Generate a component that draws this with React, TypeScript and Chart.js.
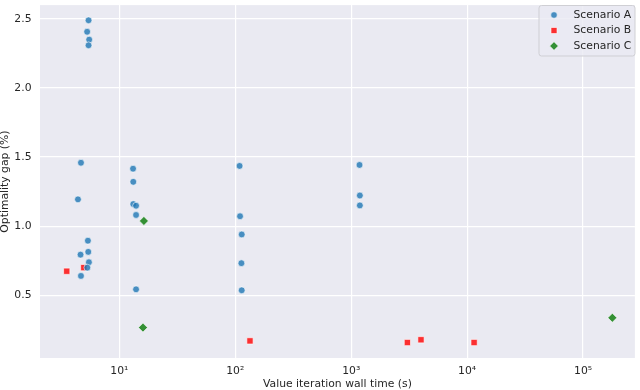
import React, { useEffect, useRef } from "react";
import { Chart, registerables } from "chart.js";

Chart.register(...registerables);

const seriesLabels = ["Scenario A", "Scenario B", "Scenario C"];

const aTime = [5.43, 5.28, 5.5, 5.43, 4.67, 4.4, 5.36, 5.4, 4.63, 5.47, 5.3, 4.67, 13.14, 13.2, 13.2, 13.95, 13.95, 13.95, 109, 110, 113.7, 113, 113.7, 1180, 1188, 1188];
const aGap = [2.49, 2.407, 2.35, 2.309, 1.459, 1.194, 0.895, 0.814, 0.794, 0.739, 0.7, 0.64, 1.416, 1.321, 1.16, 1.148, 1.081, 0.543, 1.436, 1.072, 0.94, 0.732, 0.536, 1.443, 1.222, 1.15];

const bTime = [3.52, 4.94, 134, 3054, 4000, 11490];
const bGap = [0.674, 0.7, 0.17, 0.158, 0.178, 0.158];

const cTime = [16.3, 16.0, 179000];
const cGap = [1.038, 0.266, 0.337];

const xTicks = [10, 100, 1000, 10000, 100000];
const xTickLabels = ["10¹", "10²", "10³", "10⁴", "10⁵"];
const yTicks = [0.5, 1.0, 1.5, 2.0, 2.5];

const xTitle = "Value iteration wall time (s)";
const yTitle = "Optimality gap (%)";

const FONT = "'DejaVu Sans', sans-serif";
const FS = 10.8;
const TEXT = "#262626";

export default function App() {
  const ref = useRef<HTMLCanvasElement>(null);

  useEffect(() => {
    if (!ref.current) return;
    const toPts = (xs: number[], ys: number[]) => xs.map((x, i) => ({ x, y: ys[i] }));

    const bgPlugin = {
      id: "bgPlugin",
      beforeDraw(chart: any) {
        const { ctx, chartArea: a } = chart;
        ctx.save();
        ctx.fillStyle = "#EAEAF2";
        ctx.fillRect(a.left, a.top, a.right - a.left, a.bottom - a.top);
        ctx.restore();
      },
    };

    const legendPlugin = {
      id: "legendPlugin",
      afterDatasetsDraw(chart: any) {
        const { ctx } = chart;
        const x0 = 539, y0 = 5.5, w = 96, h = 50.5;
        ctx.save();
        ctx.beginPath();
        const r = 2.5;
        ctx.moveTo(x0 + r, y0);
        ctx.arcTo(x0 + w, y0, x0 + w, y0 + h, r);
        ctx.arcTo(x0 + w, y0 + h, x0, y0 + h, r);
        ctx.arcTo(x0, y0 + h, x0, y0, r);
        ctx.arcTo(x0, y0, x0 + w, y0, r);
        ctx.closePath();
        ctx.fillStyle = "rgba(234,234,242,0.8)";
        ctx.fill();
        ctx.strokeStyle = "#cfcfd4";
        ctx.lineWidth = 1;
        ctx.stroke();
        const rows = [15, 30.5, 46];
        chart.data.datasets.forEach((ds: any, i: number) => {
          const cx = 554, cy = rows[i];
          ctx.fillStyle = ds.backgroundColor;
          ctx.strokeStyle = "#ffffff";
          ctx.lineWidth = 0.6;
          ctx.beginPath();
          if (ds.pointStyle === "circle") {
            ctx.arc(cx, cy, 3.3, 0, Math.PI * 2);
          } else if (ds.pointStyle === "rect") {
            ctx.rect(cx - 3, cy - 3, 6, 6);
          } else {
            const d = 4.3;
            ctx.moveTo(cx, cy - d);
            ctx.lineTo(cx + d, cy);
            ctx.lineTo(cx, cy + d);
            ctx.lineTo(cx - d, cy);
            ctx.closePath();
          }
          ctx.fill();
          ctx.stroke();
          ctx.fillStyle = TEXT;
          ctx.font = `${FS}px ${FONT}`;
          ctx.textBaseline = "middle";
          ctx.textAlign = "left";
          ctx.fillText(ds.label, 573.5, cy);
        });
        ctx.restore();
      },
    };

    const chart = new Chart(ref.current, {
      type: "scatter",
      data: {
        datasets: [
          {
            label: seriesLabels[0],
            data: toPts(aTime, aGap),
            pointStyle: "circle",
            pointRadius: 3.4,
            backgroundColor: "rgba(31,119,180,0.8)",
            borderColor: "#ffffff",
            pointBorderWidth: 0.6,
          },
          {
            label: seriesLabels[1],
            data: toPts(bTime, bGap),
            pointStyle: "rect",
            pointRadius: 4.4,
            backgroundColor: "rgba(255,0,0,0.8)",
            borderColor: "#ffffff",
            pointBorderWidth: 0.6,
          },
          {
            label: seriesLabels[2],
            data: toPts(cTime, cGap),
            pointStyle: "rectRot",
            pointRadius: 4.5,
            backgroundColor: "rgba(20,128,20,0.85)",
            borderColor: "#ffffff",
            pointBorderWidth: 0.6,
          },
        ],
      },
      options: {
        responsive: false,
        animation: false,
        layout: { padding: { top: 1, right: 4, left: 0, bottom: 0 } },
        plugins: {
          legend: { display: false },
          tooltip: { enabled: false },
        },
        scales: {
          x: {
            type: "logarithmic",
            min: 2.07,
            max: 280000,
            afterFit: (s: any) => {
              s.height = 32;
              s.paddingLeft = 0;
              s.paddingRight = 0;
            },
            afterBuildTicks: (s: any) => { s.ticks = xTicks.map((v) => ({ value: v })); },
            ticks: {
              autoSkip: false,
              maxRotation: 0,
              padding: 7,
              color: TEXT,
              font: { family: FONT, size: FS },
              callback: (v: any) => {
                const i = xTicks.indexOf(Number(v));
                return i >= 0 ? xTickLabels[i] : "";
              },
            },
            grid: { color: "#ffffff", lineWidth: 1.2, drawTicks: false },
            border: { display: false },
            title: {
              display: true,
              text: xTitle,
              color: TEXT,
              font: { family: FONT, size: FS, lineHeight: 1.1 },
              padding: { top: 0, bottom: 0 },
            },
          },
          y: {
            type: "linear",
            min: 0.046,
            max: 2.6,
            afterFit: (s: any) => {
              s.width = 40;
              s.paddingTop = 0;
              s.paddingBottom = 0;
            },
            afterBuildTicks: (s: any) => { s.ticks = yTicks.map((v) => ({ value: v })); },
            ticks: {
              padding: 8.5,
              color: TEXT,
              font: { family: FONT, size: FS },
              callback: (v: any) => Number(v).toFixed(1),
            },
            grid: { color: "#ffffff", lineWidth: 1.2, drawTicks: false },
            border: { display: false },
            title: {
              display: true,
              text: yTitle,
              color: TEXT,
              font: { family: FONT, size: FS, lineHeight: 1 },
              padding: { top: -0.5, bottom: 0 },
            },
          },
        },
      },
      plugins: [bgPlugin, legendPlugin],
    });
    return () => chart.destroy();
  }, []);

  return (
    <div style={{ position: "fixed", left: 0, top: 0, width: 640, height: 390, background: "#ffffff" }}>
      <canvas ref={ref} width={640} height={390} style={{ display: "block" }} />
    </div>
  );
}
